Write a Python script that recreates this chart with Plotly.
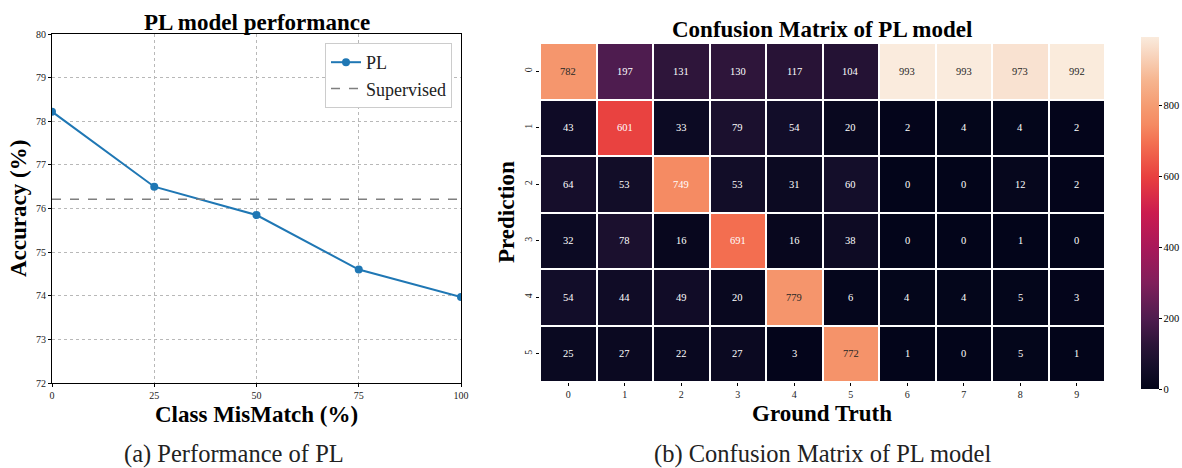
import plotly.graph_objects as go

# ---- data ----
mismatch = [0, 25, 50, 75, 100]
pl_acc = [78.22, 76.50, 75.85, 74.60, 73.97]
supervised_acc = 76.21

gt_labels = ["0", "1", "2", "3", "4", "5", "6", "7", "8", "9"]
pred_labels = ["0", "1", "2", "3", "4", "5"]
cm = [
    [782, 197, 131, 130, 117, 104, 993, 993, 973, 992],
    [43, 601, 33, 79, 54, 20, 2, 4, 4, 2],
    [64, 53, 749, 53, 31, 60, 0, 0, 12, 2],
    [32, 78, 16, 691, 16, 38, 0, 0, 1, 0],
    [54, 44, 49, 20, 779, 6, 4, 4, 5, 3],
    [25, 27, 22, 27, 3, 772, 1, 0, 5, 1],
]

# body margin is removed by the post script below, so the figure fills the window
W, H = 1182, 468


def px(x):
    return x / W


def py(y):
    return 1 - y / H


SERIF = "Liberation Serif"

rocket = [
    [0.0, "#03051A"], [0.06, "#140E2A"], [0.125, "#2B1438"], [0.2, "#4F1C4F"],
    [0.3, "#801F5B"], [0.4, "#A8185A"], [0.5, "#CB1B4F"], [0.6, "#E83F3F"],
    [0.7, "#F37051"], [0.75, "#F58A62"], [0.8, "#F59A70"], [0.875, "#F6B48E"],
    [0.95, "#F8D5BE"], [1.0, "#FAEBDD"],
]

fig = go.Figure()

# left: line chart
fig.add_trace(go.Scatter(
    x=mismatch, y=pl_acc, mode="lines+markers", name="PL",
    line=dict(color="#1f77b4", width=2), marker=dict(size=8, color="#1f77b4"),
    xaxis="x", yaxis="y"))
fig.add_trace(go.Scatter(
    x=[mismatch[0], mismatch[-1]], y=[supervised_acc, supervised_acc],
    mode="lines", name="Supervised",
    line=dict(color="#7f7f7f", width=1.5, dash="dash"),
    xaxis="x", yaxis="y"))

# right: heatmap
zmax = max(max(r) for r in cm)
fig.add_trace(go.Heatmap(
    z=cm, x=gt_labels, y=pred_labels, colorscale=rocket, zmin=0, zmax=zmax,
    xgap=2, ygap=2, showscale=True, xaxis="x2", yaxis="y2",
    colorbar=dict(
        x=px(1141), xanchor="left", y=py(213), yanchor="middle",
        thickness=18, thicknessmode="pixels", len=352, lenmode="pixels",
        outlinewidth=0, tickvals=[0, 200, 400, 600, 800],
        ticks="outside", ticklen=3, tickcolor="black", xpad=0, ypad=0,
        tickfont=dict(family=SERIF, size=10.5, color="black")),
    showlegend=False))

annotations = []
for i, row in enumerate(cm):
    for j, v in enumerate(row):
        annotations.append(dict(
            x=gt_labels[j], y=pred_labels[i], xref="x2", yref="y2",
            text=str(v), showarrow=False,
            font=dict(family=SERIF, size=10.5,
                      color="#262626" if v > 760 else "white")))


def label(text, x, y, size, color="black", angle=0):
    return dict(text=text, x=px(x), y=py(y), xref="paper", yref="paper",
                xanchor="center", yanchor="middle", showarrow=False,
                textangle=angle, font=dict(family=SERIF, size=size, color=color))


annotations += [
    label("<b>PL model performance</b>", 257, 22, 23),
    label("<b>Confusion Matrix of PL model</b>", 822, 30, 23),
    label("<b>Class MisMatch (%)</b>", 256, 414, 23),
    label("<b>Accuracy (%)</b>", 19, 209, 23, angle=-90),
    label("<b>Ground Truth</b>", 822, 413, 23),
    label("<b>Prediction</b>", 507, 212, 23, angle=-90),
    label("(a) Performance of PL", 234, 454, 24.5, "#222"),
    label("(b) Confusion Matrix of PL model", 822, 454, 24.5, "#222"),
]

tickfont = dict(family=SERIF, size=10, color="#222")
fig.update_layout(
    width=W, height=H, margin=dict(l=0, r=0, t=0, b=0, autoexpand=False),
    paper_bgcolor="white", plot_bgcolor="white",
    font=dict(family=SERIF),
    annotations=annotations,
    legend=dict(x=px(452), xanchor="right", y=py(43), yanchor="top",
                bordercolor="#cccccc", borderwidth=1, bgcolor="white",
                font=dict(family=SERIF, size=18, color="#222"),
                tracegroupgap=0),
    xaxis=dict(domain=[px(52), px(461)], range=[0, 100], automargin=False,
               tickvals=mismatch, ticks="outside", ticklen=3, tickcolor="black",
               showline=True, linecolor="black", linewidth=1.2, mirror=True,
               showgrid=True, gridcolor="#b8b8b8", griddash="dot", gridwidth=1,
               zeroline=False, tickfont=tickfont),
    yaxis=dict(domain=[py(383), py(34)], range=[72, 80], dtick=1,
               automargin=False,
               ticks="outside", ticklen=3, tickcolor="black",
               showline=True, linecolor="black", linewidth=1.2, mirror=True,
               showgrid=True, gridcolor="#b8b8b8", griddash="dot", gridwidth=1,
               zeroline=False, tickfont=tickfont),
    xaxis2=dict(domain=[px(540), px(1105)], anchor="y2", automargin=False,
                ticks="outside", ticklen=3, tickcolor="black",
                showgrid=False, zeroline=False, showline=False, tickfont=tickfont),
    yaxis2=dict(domain=[py(382), py(43)], anchor="x2", automargin=False,
                autorange="reversed", tickangle=-90,
                ticks="outside", ticklen=3, tickcolor="black",
                showgrid=False, zeroline=False, showline=False, tickfont=tickfont),
)

fig.write_html(
    "out.html",
    config={"displayModeBar": False},
    post_script="document.body.style.margin='0';document.body.style.overflow='hidden';",
)
